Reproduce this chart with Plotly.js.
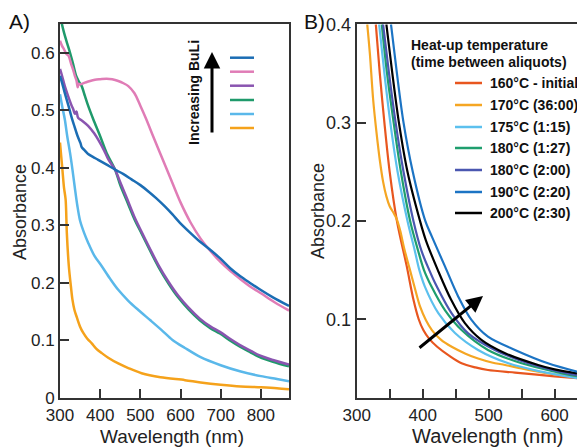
<!DOCTYPE html>
<html>
<head>
<meta charset="utf-8">
<script src="https://cdn.plot.ly/plotly-3.0.1.min.js"></script>
<style>html,body{margin:0;padding:0;background:#fff;}#chart{width:577px;height:447px;}</style>
</head>
<body>
<div id="chart"></div>
<script>
// ---------- Panel A data (wavelength nm, absorbance) ----------
const aBlueX = [300,305,312,321,330,336,341,344,348,351,354,362,370,382,395,415,437,458,478,500,520,540,561,580,598,623,648,673,698,723,748,773,797,830,870];
const aBlueY = [0.560,0.548,0.530,0.508,0.485,0.472,0.461,0.455,0.448,0.443,0.436,0.430,0.424,0.419,0.414,0.406,0.397,0.389,0.380,0.370,0.359,0.347,0.333,0.319,0.305,0.288,0.272,0.258,0.243,0.226,0.212,0.200,0.189,0.175,0.160];

const aPinkX = [300,305,310,316,321,328,333,337,341,344,346,350,362,375,387,400,416,430,445,458,470,485,500,515,530,550,575,600,625,650,675,700,725,750,775,800,835,870];
const aPinkY = [0.621,0.612,0.606,0.598,0.595,0.580,0.570,0.560,0.552,0.540,0.546,0.545,0.548,0.551,0.553,0.554,0.555,0.554,0.551,0.547,0.542,0.530,0.508,0.484,0.458,0.424,0.382,0.340,0.305,0.277,0.255,0.236,0.220,0.206,0.193,0.182,0.166,0.152];

const aPurpleX = [300,305,312,320,329,333,337,341,345,355,370,385,395,410,420,437,450,466,487,503,525,545,570,594,620,648,675,698,725,748,775,797,830,870];
const aPurpleY = [0.572,0.560,0.542,0.525,0.508,0.502,0.494,0.498,0.487,0.482,0.473,0.460,0.449,0.430,0.415,0.397,0.375,0.348,0.312,0.289,0.258,0.231,0.202,0.178,0.157,0.138,0.124,0.115,0.102,0.092,0.082,0.074,0.066,0.058];

const aGreenX = [300,304,310,318,325,332,340,347,354,362,370,383,400,416,437,450,466,487,503,525,545,570,594,620,648,675,698,725,748,775,797,830,870];
const aGreenY = [0.665,0.652,0.635,0.616,0.600,0.582,0.560,0.550,0.542,0.525,0.508,0.484,0.455,0.426,0.397,0.370,0.343,0.308,0.286,0.255,0.228,0.199,0.175,0.154,0.135,0.121,0.112,0.099,0.089,0.079,0.071,0.063,0.055];

const aLightBlueX = [300,306,312,318,325,331,337,343,350,360,370,385,404,425,445,470,495,525,553,580,611,650,700,750,800,840,870];
const aLightBlueY = [0.528,0.505,0.484,0.455,0.426,0.397,0.365,0.335,0.308,0.287,0.270,0.248,0.229,0.207,0.188,0.169,0.153,0.135,0.118,0.101,0.087,0.071,0.057,0.046,0.038,0.033,0.029];

const aOrangeX = [300,303,306,310,314,317,322,327,331,336,342,350,358,368,379,390,404,420,445,470,503,550,611,650,700,750,800,840,870];
const aOrangeY = [0.444,0.420,0.397,0.365,0.345,0.287,0.229,0.195,0.171,0.153,0.140,0.124,0.113,0.103,0.095,0.086,0.078,0.070,0.060,0.052,0.043,0.036,0.031,0.027,0.023,0.020,0.0186,0.017,0.015];

// ---------- Panel B data ----------
const b160X = [329,335,342,350,361,376,386,394,401,410,422,440,459,480,499,540,600,634];
const b160Y = [0.40,0.35,0.30,0.25,0.20,0.1535,0.12,0.10,0.089,0.08,0.072,0.063,0.0552,0.051,0.0484,0.0457,0.042,0.040];

const b170X = [316,320,325,330,335,340,345,350,356,360,366,372,380,388,396,405,414,428,444,465,484,505,525,550,575,600,634];
const b170Y = [0.40,0.37,0.323,0.29,0.262,0.24,0.225,0.215,0.208,0.203,0.19,0.172,0.152,0.132,0.113,0.099,0.089,0.079,0.072,0.065,0.060,0.056,0.0535,0.050,0.0467,0.044,0.042];

const b175X = [334,342,351,362,377,388,395,403.5,424,449,484,530,580,634];
const b175Y = [0.40,0.35,0.30,0.25,0.20,0.17,0.15,0.133,0.106,0.086,0.0688,0.0552,0.0467,0.040];

const b180aX = [338,346,356,367,381,393,402,413.6,434,459,499,550,605,634];
const b180aY = [0.40,0.35,0.30,0.25,0.20,0.17,0.15,0.133,0.109,0.089,0.0688,0.0552,0.046,0.042];

const b180bX = [340,349,359,371,386,398,410,419,444,469,509.5,560,600,634];
const b180bY = [0.40,0.35,0.30,0.25,0.20,0.17,0.15,0.1366,0.106,0.0857,0.0688,0.0552,0.048,0.043];

const b190X = [352,361,371,385,404,414,434,454,474,499,540,590,634];
const b190Y = [0.40,0.35,0.30,0.25,0.20,0.184,0.1535,0.123,0.0993,0.0823,0.0688,0.0552,0.0467];

const b200X = [345,354,364,377,396,405,423,443,464,489,525,575,600,634];
const b200Y = [0.40,0.35,0.30,0.25,0.20,0.18,0.15,0.12,0.096,0.079,0.0654,0.0535,0.049,0.045];

const bLegendLabels = ["160°C - initial","170°C (36:00)","175°C (1:15)","180°C (1:27)","180°C (2:00)","190°C (2:20)","200°C (2:30)"];

// ---------- styling ----------
const W = 577, H = 447;
const px = v => v / W;
const py = v => 1 - v / H;
const FONT = "Liberation Sans, Arial, Helvetica, sans-serif";

const aColors = {blue:"#1b6db4", pink:"#e07cb6", purple:"#8a55b0", green:"#1f9a6b", lightblue:"#5ab8ea", orange:"#f5a21b"};
const bColors = ["#e8561f","#f5a623","#5cc0ee","#1f9e6e","#4a57b0","#1c74c4","#000000"];

function lineA(x, y, color) {
  return {x:x, y:y, type:"scatter", mode:"lines", xaxis:"x", yaxis:"y",
          line:{color:color, width:2.5, shape:"spline", smoothing:0.9}, showlegend:false, hoverinfo:"skip"};
}
function lineB(x, y, color) {
  return {x:x, y:y, type:"scatter", mode:"lines", xaxis:"x2", yaxis:"y2",
          line:{color:color, width:2.2, shape:"spline", smoothing:0.9}, showlegend:false, hoverinfo:"skip"};
}

const traces = [
  lineA(aOrangeX, aOrangeY, aColors.orange),
  lineA(aLightBlueX, aLightBlueY, aColors.lightblue),
  lineA(aGreenX, aGreenY, aColors.green),
  lineA(aPurpleX, aPurpleY, aColors.purple),
  lineA(aPinkX, aPinkY, aColors.pink),
  lineA(aBlueX, aBlueY, aColors.blue),
  lineB(b160X, b160Y, bColors[0]),
  lineB(b170X, b170Y, bColors[1]),
  lineB(b175X, b175Y, bColors[2]),
  lineB(b180aX, b180aY, bColors[3]),
  lineB(b180bX, b180bY, bColors[4]),
  lineB(b200X, b200Y, bColors[6]),
  lineB(b190X, b190Y, bColors[5])
];

const axisCommon = {showgrid:false, zeroline:false, showline:true, linewidth:2, linecolor:"#333",
  ticks:"inside", ticklen:9, tickwidth:2, tickcolor:"#333"};

const shapes = [];
const annotations = [];

// Panel A legend swatches (no text in original)
const aLegendColors = [aColors.blue, aColors.pink, aColors.purple, aColors.green, aColors.lightblue, aColors.orange];
const aLegendY = [57.7, 71.7, 85.7, 100, 114, 128];
aLegendColors.forEach((c, i) => {
  shapes.push({type:"line", xref:"paper", yref:"paper", x0:px(230), x1:px(254), y0:py(aLegendY[i]), y1:py(aLegendY[i]),
               line:{color:c, width:2.5}});
});

// Panel B legend swatches + labels
const bLegendY = [83, 105, 127, 148, 170, 192, 213];
bLegendLabels.forEach((t, i) => {
  shapes.push({type:"line", xref:"paper", yref:"paper", x0:px(455), x1:px(482), y0:py(bLegendY[i]), y1:py(bLegendY[i]),
               line:{color:bColors[i], width:2.5}});
  annotations.push({xref:"paper", yref:"paper", x:px(488), y:py(bLegendY[i]), xanchor:"left", yanchor:"middle",
               text:t, showarrow:false, font:{family:FONT, size:14, color:"#111", weight:"bold"}});
});
annotations.push({xref:"paper", yref:"paper", x:px(409), y:py(45), xanchor:"left", yanchor:"middle",
  text:"Heat-up temperature", showarrow:false, font:{family:FONT, size:14, color:"#111", weight:"bold"}});
annotations.push({xref:"paper", yref:"paper", x:px(409), y:py(62), xanchor:"left", yanchor:"middle",
  text:"(time between aliquots)", showarrow:false, font:{family:FONT, size:14, color:"#111", weight:"bold"}});

// Panel labels
annotations.push({xref:"paper", yref:"paper", x:px(7), y:py(22), xanchor:"left", yanchor:"middle",
  text:"A)", showarrow:false, font:{family:FONT, size:21, color:"#111"}});
annotations.push({xref:"paper", yref:"paper", x:px(302), y:py(22), xanchor:"left", yanchor:"middle",
  text:"B)", showarrow:false, font:{family:FONT, size:21, color:"#111"}});

// "Increasing BuLi" with arrow
annotations.push({xref:"paper", yref:"paper", x:px(194), y:py(93), xanchor:"center", yanchor:"middle", textangle:-90,
  text:"Increasing BuLi", showarrow:false, font:{family:FONT, size:14, color:"#111", weight:"bold"}});
annotations.push({xref:"paper", yref:"paper", x:px(212), y:py(52), ax:0, ay:82, axref:"pixel", ayref:"pixel",
  text:"", showarrow:true, arrowhead:2, arrowsize:1.1, arrowwidth:3, arrowcolor:"#000"});
// Panel B arrow
annotations.push({xref:"paper", yref:"paper", x:px(483), y:py(296), ax:-65, ay:53, axref:"pixel", ayref:"pixel",
  text:"", showarrow:true, arrowhead:2, arrowsize:1.1, arrowwidth:3, arrowcolor:"#000"});

// Axis titles
annotations.push({xref:"paper", yref:"paper", x:px(20), y:py(212), xanchor:"center", yanchor:"middle", textangle:-90,
  text:"Absorbance", showarrow:false, font:{family:FONT, size:18, color:"#222"}});
annotations.push({xref:"paper", yref:"paper", x:px(172), y:py(436), xanchor:"center", yanchor:"middle",
  text:"Wavelength (nm)", showarrow:false, font:{family:FONT, size:19, color:"#222"}});
annotations.push({xref:"paper", yref:"paper", x:px(318), y:py(211), xanchor:"center", yanchor:"middle", textangle:-90,
  text:"Absorbance", showarrow:false, font:{family:FONT, size:18, color:"#222"}});
annotations.push({xref:"paper", yref:"paper", x:px(488), y:py(436), xanchor:"center", yanchor:"middle",
  text:"Wavelength (nm)", showarrow:false, font:{family:FONT, size:20, color:"#222"}});

const layout = {
  width:W, height:H,
  margin:{l:0, r:0, t:0, b:0, pad:0},
  paper_bgcolor:"#fff", plot_bgcolor:"#fff",
  font:{family:FONT, color:"#222"},
  showlegend:false,
  xaxis: Object.assign({}, axisCommon, {domain:[px(60), px(289)], range:[300,870], tickvals:[300,400,500,600,700,800],
          mirror:true, anchor:"y", ticklabelstandoff:1, tickfont:{size:17, family:FONT, color:"#222"}}),
  yaxis: Object.assign({}, axisCommon, {domain:[py(398), py(24)], range:[0,0.65], tickvals:[0,0.1,0.2,0.3,0.4,0.5,0.6],
          ticktext:["0","0.1","0.2","0.3","0.4","0.5","0.6"], mirror:true, anchor:"x", tickfont:{size:17, family:FONT, color:"#222"}}),
  xaxis2: Object.assign({}, axisCommon, {domain:[px(356.7), 1], range:[300,634], tickvals:[300,400,500,600],
          minor:{tickvals:[350,450,550], ticks:"inside", ticklen:9, tickwidth:2, tickcolor:"#333"},
          mirror:true, anchor:"y2", tickfont:{size:17, family:FONT, color:"#222"}}),
  yaxis2: Object.assign({}, axisCommon, {domain:[py(398.3), py(24.3)], range:[0.0196,0.4], tickvals:[0.1,0.2,0.3,0.4],
          ticktext:["0.1","0.2","0.3","0.4"], mirror:false, anchor:"x2", tickfont:{size:18, family:FONT, color:"#222"}}),
  shapes:shapes,
  annotations:annotations
};

Plotly.newPlot("chart", traces, layout, {displayModeBar:false, staticPlot:true});
</script>
</body>
</html>
